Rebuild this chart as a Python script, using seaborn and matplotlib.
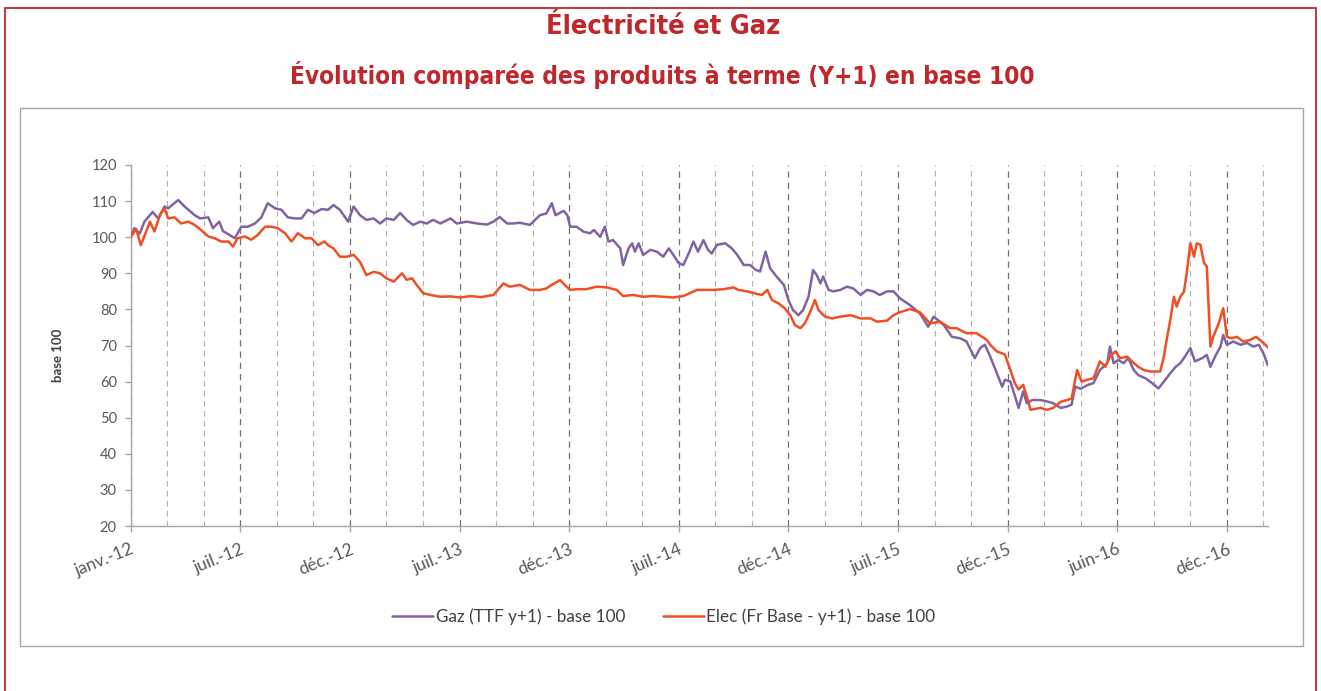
import numpy as np
import pandas as pd
import matplotlib
matplotlib.use('Agg')
import matplotlib.pyplot as plt
import seaborn as sns
from matplotlib.patches import Rectangle
from matplotlib import font_manager

# ---------------- data (trading-day index, base-100 values) ----------------
gaz_jour = [0, 4, 10, 15, 24, 30, 37, 41, 52, 59, 70, 76, 85, 90, 97, 101, 107, 114,
            121, 128, 136, 143, 150, 158, 165, 172, 180, 187, 194, 201, 209, 216, 222,
            229, 238, 244, 251, 258, 266, 273, 280, 288, 295, 302, 309, 317, 324, 331,
            339, 350, 357, 368, 379, 390, 397, 404, 412, 419, 426, 437, 448, 455, 461,
            465, 474, 478, 481, 488, 496, 503, 507, 514, 519, 523, 528, 536, 539, 545,
            549, 552, 556, 561, 569, 576, 583, 589, 594, 600, 605, 611, 616, 621, 627,
            632, 636, 642, 651, 658, 664, 671, 678, 684, 689, 695, 700, 707, 715, 720,
            725, 731, 736, 742, 747, 751, 755, 758, 764, 769, 777, 784, 791, 799, 806,
            813, 820, 828, 835, 842, 853, 864, 873, 879, 890, 899, 908, 915, 924, 930,
            935, 941, 946, 954, 957, 963, 968, 972, 977, 981, 987, 996, 1003, 1010, 1018,
            1025, 1030, 1034, 1040, 1047, 1054, 1061, 1069, 1072, 1076, 1081, 1087, 1092,
            1098, 1103, 1111, 1118, 1125, 1131, 1138, 1144, 1149, 1154, 1160, 1165, 1173,
            1178, 1182, 1187, 1193, 1196, 1200, 1207, 1215, 1222, 1229, 1235, 1240, 1245]
gaz_val = [100, 102.5, 101, 104.3, 107, 105.2, 108.5, 108, 110.3, 108.5, 106.1, 105.2,
           105.5, 102.5, 104.3, 101.7, 100.8, 99.7, 102.9, 102.9, 103.8, 105.5, 109.4, 108,
           107.6, 105.5, 105.2, 105.2, 107.6, 106.7, 107.8, 107.6, 108.9, 107.6, 104.3,
           108.5, 106.1, 104.8, 105.2, 103.8, 105.2, 104.8, 106.7, 104.8, 103.4, 104.3,
           103.8, 104.8, 103.8, 105.2, 103.8, 104.3, 103.8, 103.5, 104.3, 105.6, 103.8,
           103.8, 104, 103.4, 106.1, 106.6, 109.4, 106.1, 107.3, 106.1, 102.9, 102.9, 101.5,
           101.1, 102, 100.1, 102.9, 98.8, 99.2, 96.9, 92.3, 96.9, 98.3, 96, 98.3, 95.1,
           96.5, 96, 94.6, 96.9, 95.1, 92.8, 92.3, 95.6, 98.8, 96, 99.2, 96.5, 95.5, 97.9,
           98.3, 96.9, 95.1, 92.3, 92.3, 91, 90.5, 96, 91.4, 89.1, 86.8, 82.6, 79.8, 78.4,
           79.8, 83.5, 90.9, 89.5, 87.2, 89.1, 85.4, 85, 85.4, 86.3, 85.8, 84, 85.4, 85, 84,
           85, 85, 83.1, 81.2, 78.9, 75.2, 78, 75.7, 72.4, 72, 71.1, 66.5, 69.3, 70.2, 66.9,
           63.7, 58.6, 60.5, 60, 55.9, 52.7, 57.3, 54, 54.9, 54.9, 54.5, 54, 52.7, 53.1,
           53.6, 58.6, 58, 59, 59.6, 63.2, 65.1, 69.7, 65.1, 66, 65.1, 66.5, 63.2, 61.8,
           60.9, 59.6, 58.1, 60, 62.3, 64.1, 65.1, 66.9, 69.3, 65.6, 66.5, 67.4, 64.1, 66.9,
           69.7, 72.9, 70.2, 71.1, 70.2, 70.7, 69.7, 70.2, 67.8, 64.5]

elec_jour = [0, 6, 11, 17, 21, 26, 32, 37, 41, 48, 55, 63, 70, 77, 85, 92, 99, 107, 112,
             117, 125, 132, 139, 147, 154, 161, 169, 176, 183, 191, 198, 205, 212, 216,
             222, 229, 237, 244, 251, 258, 266, 273, 280, 288, 297, 302, 308, 313, 320,
             328, 339, 350, 361, 372, 383, 397, 408, 415, 426, 437, 448, 455, 461, 470,
             475, 481, 488, 499, 510, 521, 532, 539, 550, 561, 572, 583, 594, 605, 620,
             638, 649, 660, 665, 675, 682, 691, 697, 702, 709, 716, 722, 727, 733, 738,
             744, 749, 753, 760, 768, 777, 788, 799, 810, 817, 828, 835, 842, 853, 864,
             875, 886, 897, 904, 915, 926, 937, 941, 948, 957, 963, 968, 972, 977, 981,
             985, 996, 1003, 1010, 1018, 1025, 1030, 1036, 1041, 1047, 1054, 1061, 1067,
             1072, 1078, 1083, 1091, 1096, 1103, 1109, 1116, 1127, 1131, 1134, 1138, 1142,
             1145, 1149, 1153, 1156, 1160, 1164, 1167, 1171, 1175, 1178, 1182, 1185, 1191,
             1196, 1200, 1205, 1211, 1218, 1225, 1232, 1240, 1245]
elec_val = [100, 102.3, 97.8, 101.6, 104.3, 101.6, 106.1, 108, 105.2, 105.5, 103.8, 104.3,
            103.4, 102, 100.2, 99.7, 98.8, 98.8, 97.4, 99.7, 100.2, 99.3, 100.6, 102.9,
            102.9, 102.5, 101.1, 98.8, 101.1, 99.7, 99.7, 97.8, 98.8, 97.8, 96.9, 94.6,
            94.6, 95.1, 93.2, 89.5, 90.4, 90, 88.6, 87.7, 90, 88.2, 88.6, 86.8, 84.5, 84,
            83.5, 83.6, 83.3, 83.7, 83.4, 84, 87.2, 86.3, 86.8, 85.4, 85.4, 85.8, 86.8,
            88.1, 86.8, 85.4, 85.6, 85.6, 86.3, 86.1, 85.4, 83.7, 84, 83.5, 83.7, 83.5,
            83.3, 83.7, 85.4, 85.4, 85.6, 86.1, 85.4, 85, 84.5, 84, 85.4, 82.6, 81.7, 80.3,
            78.4, 75.7, 74.8, 76.1, 79.4, 82.6, 79.8, 78, 77.5, 78, 78.4, 77.5, 77.5, 76.6,
            76.9, 78.4, 79.2, 80.1, 79.2, 76.1, 76.6, 74.8, 74.8, 73.4, 73.4, 71.6, 70.2,
            68.4, 67.5, 63.2, 59.5, 57.8, 59.1, 55.9, 52.2, 52.7, 52.2, 52.7, 54.4, 54.9,
            55.3, 63.2, 60, 60.5, 60.9, 65.6, 64.1, 66.9, 68.4, 66.5, 66.9, 65.6, 64.1, 63.2,
            62.8, 62.8, 66.9, 71.5, 77, 83.5, 80.8, 83.5, 84.9, 90, 98.3, 94.6, 98.3, 97.9,
            92.8, 91.9, 69.7, 72.4, 76.1, 80.3, 72.4, 72, 72.4, 71.1, 71.5, 72.4, 70.7, 69.5]

series_names = ['Gaz (TTF y+1) - base 100', 'Elec (Fr Base - y+1) - base 100']
tick_days = [0, 120, 240, 360, 480, 600, 720, 840, 960, 1080, 1200]
tick_labels = ['janv.-12', 'juil.-12', 'déc.-12', 'juil.-13', 'déc.-13', 'juil.-14',
               'déc.-14', 'juil.-15', 'déc.-15', 'juin-16', 'déc.-16']
title_1 = 'Électricité et Gaz'
title_2 = 'Évolution comparée des produits à terme (Y+1) en base 100'
y_label = 'base 100'

# ---------------- style ----------------
sns.set_theme(style='white')
plt.rcParams['font.family'] = ['Lato', 'DejaVu Sans']

RED = '#c0272d'
PURPLE = '#8064a2'
ORANGE = '#f04e23'
GREY_TXT = '#595959'

# condensed bold face for the titles, if one is installed
cond_fp = None
for f in font_manager.fontManager.ttflist:
    if f.name == 'DejaVu Sans' and 'ondensed' in f.fname and 'Bold' in f.fname \
            and 'Oblique' not in f.fname:
        cond_fp = font_manager.FontProperties(fname=f.fname)
        break
if cond_fp is None:
    cond_fp = font_manager.FontProperties(family='DejaVu Sans', weight='bold',
                                          stretch='condensed')

W, H = 1321, 691
fig = plt.figure(figsize=(W / 100, H / 100), dpi=100)

# frames
fig.patches.append(Rectangle((5 / W, -0.05), (1316 - 5) / W, 1 - 8 / H + 0.05,
                             transform=fig.transFigure, fill=False,
                             edgecolor=RED, linewidth=1.3, zorder=0))
fig.patches.append(Rectangle((20 / W, 1 - 646 / H), (1303 - 20) / W, (646 - 108) / H,
                             transform=fig.transFigure, fill=False,
                             edgecolor='#a6a6a6', linewidth=1.0, zorder=0))

# titles
fp1 = cond_fp.copy(); fp1.set_size(19.5)
fp2 = cond_fp.copy(); fp2.set_size(17.5)
fig.text(663 / W, 1 - 27 / H, title_1, ha='center', va='center', color=RED,
         fontproperties=fp1)
fig.text(662 / W, 1 - 75 / H, title_2, ha='center', va='center', color=RED,
         fontproperties=fp2)

ax = fig.add_axes([130.7 / W, 1 - 526 / H, (1268 - 130.7) / W, (526 - 165) / H])

df = pd.concat([
    pd.DataFrame({'jour': gaz_jour, 'valeur': gaz_val, 'serie': series_names[0]}),
    pd.DataFrame({'jour': elec_jour, 'valeur': elec_val, 'serie': series_names[1]}),
], ignore_index=True)

sns.lineplot(data=df, x='jour', y='valeur', hue='serie', hue_order=series_names,
             palette=[PURPLE, ORANGE], estimator=None, linewidth=1.8, ax=ax, zorder=3)

ax.set_xlim(0, 1245)
ax.set_ylim(20, 120)
ax.set_yticks(np.arange(20, 121, 10))
ax.set_xticks(tick_days)
ax.set_xticklabels(tick_labels, rotation=22, ha='right', va='top', rotation_mode='anchor')
ax.set_xticks(np.arange(40, 1245, 40), minor=True)

ax.grid(False)
ax.set_axisbelow(True)
ax.grid(which='major', axis='x', color='#707070', linestyle=(0, (5, 4)), linewidth=0.9)
ax.grid(which='minor', axis='x', color='#b0b0b0', linestyle=(0, (5, 4)), linewidth=0.8)

for s in ['top', 'right']:
    ax.spines[s].set_visible(False)
for s in ['left', 'bottom']:
    ax.spines[s].set_color('#a6a6a6')
    ax.spines[s].set_linewidth(1.0)

ax.tick_params(axis='y', which='major', length=4, width=1, color='#a6a6a6', direction='out',
               labelcolor=GREY_TXT, labelsize=10.5, pad=6, left=True)
ax.tick_params(axis='x', which='major', length=4, width=1, color='#a6a6a6', direction='out',
               labelcolor=GREY_TXT, labelsize=12.5, pad=7, bottom=True)
ax.tick_params(axis='x', which='minor', length=0)

ax.set_xlabel('')
ax.set_ylabel(y_label, fontsize=9.5, fontweight='bold', color='#404040')
ax.yaxis.set_label_coords((64 - 130.7) / (1268 - 130.7), 0.474)

handles, labels = ax.get_legend_handles_labels()
ax.get_legend().remove()
fig.legend(handles, labels, loc='center', bbox_to_anchor=(664 / W, 1 - 617 / H), ncol=2,
           frameon=False, fontsize=12.3, labelcolor='#404040', handlelength=2.4,
           columnspacing=2.2, handletextpad=0.15)

fig.savefig('out.png', dpi=100, facecolor='white')
